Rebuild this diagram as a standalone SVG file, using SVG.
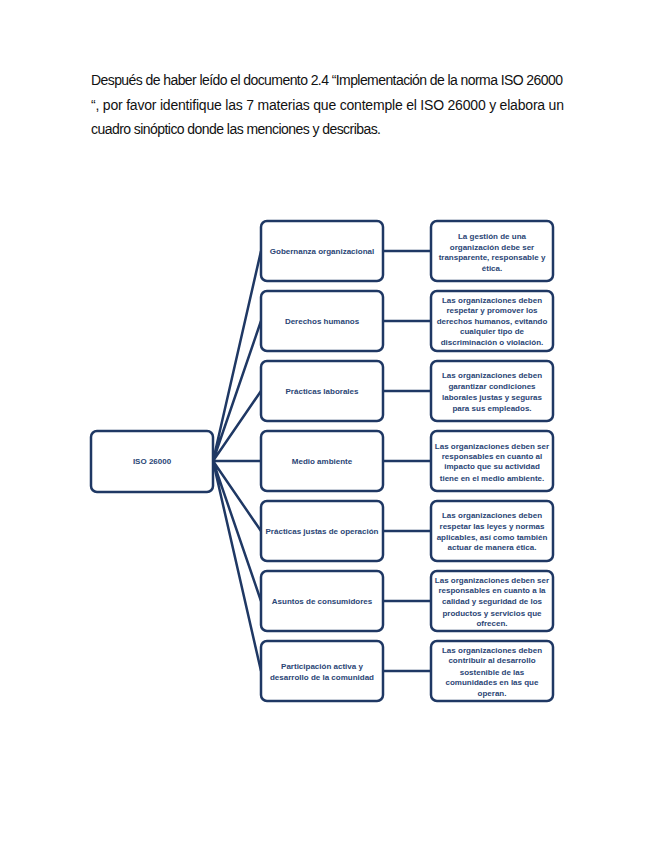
<svg xmlns="http://www.w3.org/2000/svg" width="655" height="848" viewBox="0 0 655 848">
<style>
.bg{fill:#ffffff}
.hd{font-family:"Liberation Sans",Arial,sans-serif;font-size:14px;fill:#111111}
.box{fill:#ffffff;stroke:#1F3864;stroke-width:2.5}
.t{font-family:"Liberation Sans",Arial,sans-serif;font-size:8px;font-weight:bold;fill:#2A4575;text-anchor:middle}
.c{stroke:#1F3864;stroke-width:2.5;fill:none}
</style>
<rect class="bg" x="0" y="0" width="655" height="848"/>
<g id="heading">
<text class="hd" x="91" y="85" textLength="472" lengthAdjust="spacing">Después de haber leído el documento 2.4 “Implementación de la norma ISO 26000</text>
<text class="hd" x="91" y="110" textLength="473" lengthAdjust="spacing">“, por favor identifique las 7 materias que contemple el ISO 26000 y elabora un</text>
<text class="hd" x="91" y="134" textLength="290" lengthAdjust="spacing">cuadro sinóptico donde las menciones y describas.</text>
</g>
<g id="connectors">
<path class="c" d="M213 461 L261 251 M213 461 L261 321 M213 461 L261 391 M213 461 L261 461 M213 461 L261 531 M213 461 L261 601 M213 461 L261 671"/>
<path class="c" d="M383 251 H431 M383 321 H431 M383 391 H431 M383 461 H431 M383 531 H431 M383 601 H431 M383 671 H431"/>
</g>
<g id="root">
<rect class="box" x="91" y="431" width="122" height="61" rx="6"/>
<text class="t" x="152" y="464" font-weight="normal">ISO 26000</text>
</g>
<g id="m1"><rect class="box" x="261" y="221" width="122" height="60" rx="6"/><text class="t" x="322" y="253.8">Gobernanza organizacional</text></g>
<g id="m2"><rect class="box" x="261" y="291" width="122" height="60" rx="6"/><text class="t" x="322" y="323.8">Derechos humanos</text></g>
<g id="m3"><rect class="box" x="261" y="361" width="122" height="60" rx="6"/><text class="t" x="322" y="393.8">Prácticas laborales</text></g>
<g id="m4"><rect class="box" x="261" y="431" width="122" height="60" rx="6"/><text class="t" x="322" y="463.8">Medio ambiente</text></g>
<g id="m5"><rect class="box" x="261" y="501" width="122" height="60" rx="6"/><text class="t" x="322" y="533.8">Prácticas justas de operación</text></g>
<g id="m6"><rect class="box" x="261" y="571" width="122" height="60" rx="6"/><text class="t" x="322" y="603.8">Asuntos de consumidores</text></g>
<g id="m7"><rect class="box" x="261" y="641" width="122" height="60" rx="6"/><text class="t" x="322" y="669.4">Participación activa y</text><text class="t" x="322" y="679.6">desarrollo de la comunidad</text></g>
<g id="d1"><rect class="box" x="431" y="221" width="122" height="60" rx="6"/>
<text class="t" x="492" y="238.7">La gestión de una</text><text class="t" x="492" y="249.5">organización debe ser</text><text class="t" x="492" y="260.2">transparente, responsable y</text><text class="t" x="492" y="270.9">ética.</text></g>
<g id="d2"><rect class="box" x="431" y="291" width="122" height="60" rx="6"/>
<text class="t" x="492" y="302.7">Las organizaciones deben</text><text class="t" x="492" y="313.2">respetar y promover los</text><text class="t" x="492" y="323.7">derechos humanos, evitando</text><text class="t" x="492" y="334.2">cualquier tipo de</text><text class="t" x="492" y="345.2">discriminación o violación.</text></g>
<g id="d3"><rect class="box" x="431" y="361" width="122" height="60" rx="6"/>
<text class="t" x="492" y="377.9">Las organizaciones deben</text><text class="t" x="492" y="389.4">garantizar condiciones</text><text class="t" x="492" y="400.2">laborales justas y seguras</text><text class="t" x="492" y="410.6">para sus empleados.</text></g>
<g id="d4"><rect class="box" x="431" y="431" width="122" height="60" rx="6"/>
<text class="t" x="492" y="448.6">Las organizaciones deben ser</text><text class="t" x="492" y="458.9">responsables en cuanto al</text><text class="t" x="492" y="469.1">impacto que su actividad</text><text class="t" x="492" y="480.6">tiene en el medio ambiente.</text></g>
<g id="d5"><rect class="box" x="431" y="501" width="122" height="60" rx="6"/>
<text class="t" x="492" y="517.9">Las organizaciones deben</text><text class="t" x="492" y="528.9">respetar las leyes y normas</text><text class="t" x="492" y="539.6">aplicables, así como también</text><text class="t" x="492" y="550.2">actuar de manera ética.</text></g>
<g id="d6"><rect class="box" x="431" y="571" width="122" height="60" rx="6"/>
<text class="t" x="492" y="582.9">Las organizaciones deben ser</text><text class="t" x="492" y="593.1">responsables en cuanto a la</text><text class="t" x="492" y="603.9">calidad y seguridad de los</text><text class="t" x="492" y="615.6">productos y servicios que</text><text class="t" x="492" y="625.6">ofrecen.</text></g>
<g id="d7"><rect class="box" x="431" y="641" width="122" height="60" rx="6"/>
<text class="t" x="492" y="652.9">Las organizaciones deben</text><text class="t" x="492" y="663.2">contribuir al desarrollo</text><text class="t" x="492" y="674.6">sostenible de las</text><text class="t" x="492" y="685.2">comunidades en las que</text><text class="t" x="492" y="696.2">operan.</text></g>
</svg>
